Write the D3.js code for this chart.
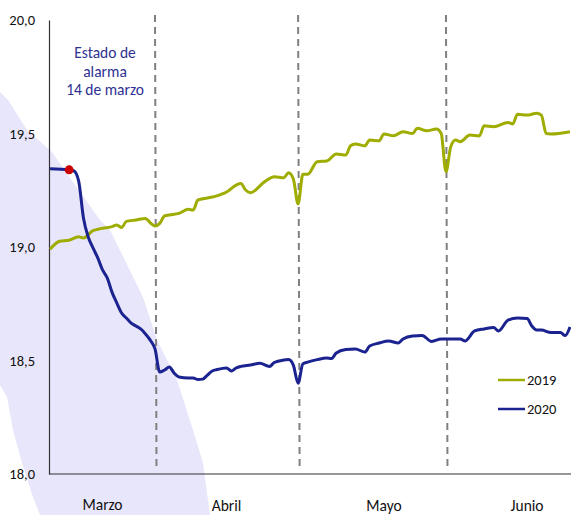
<!DOCTYPE html>
<html>
<head>
<meta charset="utf-8">
<script src="https://cdn.jsdelivr.net/npm/d3@7"></script>
<style>
  body { margin: 0; background: #fff; }
  svg { display: block; font-family: Carlito, Calibri, Lato, sans-serif; }
</style>
</head>
<body>
<div id="chart"></div>
<script>
// series, dates as month-day (both years placed on the same calendar)
var dates2019 = ["03-10","03-12","03-14","03-16","03-17","03-19","03-20","03-23","03-24","03-25","03-26","03-28","03-30","03-31",
  "04-01","04-02","04-03","04-04","04-06","04-08","04-09","04-10","04-13","04-16","04-18","04-19","04-20","04-21","04-24","04-26","04-28","04-29","04-30",
  "05-01","05-02","05-03","05-05","05-07","05-09","05-11","05-12","05-13","05-15","05-16","05-18","05-19","05-21","05-23","05-25","05-26","05-28","05-30","05-31",
  "06-01","06-02","06-03","06-04","06-06","06-08","06-09","06-11","06-14","06-15","06-16","06-18","06-20","06-21","06-22","06-23","06-27"];
var values2019 = [18.99,19.025,19.03,19.045,19.04,19.072,19.078,19.09,19.097,19.086,19.113,19.119,19.126,19.107,
  19.093,19.104,19.137,19.141,19.148,19.166,19.163,19.207,19.22,19.242,19.273,19.28,19.251,19.239,19.288,19.31,19.305,19.327,19.30,
  19.19,19.32,19.32,19.376,19.379,19.41,19.405,19.446,19.454,19.446,19.471,19.468,19.498,19.49,19.508,19.50,19.523,19.512,19.52,19.50,
  19.332,19.442,19.471,19.464,19.493,19.489,19.534,19.53,19.549,19.542,19.585,19.581,19.589,19.581,19.50,19.498,19.508];

var dates2020 = ["03-10","03-14","03-15","03-16","03-17","03-18","03-19","03-20","03-21","03-22","03-23","03-24","03-25","03-26","03-27","03-28","03-29","03-30","03-31",
  "04-01","04-02","04-03","04-04","04-05","04-06","04-08","04-09","04-10","04-11","04-12","04-13","04-14","04-16","04-17","04-18","04-19","04-21","04-23","04-25","04-26","04-28","04-29","04-30",
  "05-01","05-02","05-03","05-05","05-07","05-08","05-09","05-11","05-13","05-15","05-16","05-18","05-20","05-22","05-23","05-25","05-27","05-29","05-31",
  "06-02","06-04","06-05","06-07","06-09","06-11","06-12","06-14","06-16","06-18","06-19","06-20","06-21","06-23","06-25","06-26","06-27"];
var values2020 = [19.345,19.34,19.335,19.29,19.128,19.044,18.996,18.952,18.899,18.863,18.80,18.753,18.709,18.687,18.665,18.652,18.639,18.617,18.59,
  18.551,18.449,18.458,18.471,18.445,18.427,18.423,18.423,18.416,18.418,18.436,18.454,18.46,18.467,18.454,18.467,18.474,18.48,18.488,18.474,18.491,18.502,18.504,18.48,
  18.40,18.485,18.493,18.504,18.511,18.509,18.533,18.548,18.551,18.537,18.564,18.577,18.586,18.577,18.595,18.608,18.61,18.584,18.595,
  18.595,18.595,18.586,18.63,18.639,18.645,18.63,18.678,18.687,18.685,18.652,18.634,18.634,18.623,18.623,18.61,18.648];

var seriesNames = ["2019", "2020"];
var months = ["Marzo", "Abril", "Mayo", "Junio"];
var monthLabelDates = ["03-21", "04-16", "05-19", "06-18"];
var monthStarts = ["04-01", "05-01", "06-01"];
var yTicks = [18, 18.5, 19, 19.5, 20];
var alarmDate = "03-14";
var alarmText = ["Estado de", "alarma", "14 de marzo"];

// light shaded band behind the start of the chart: [days after 1 March, value]
var bandPoints = [[-1.5,19.683],[0.18,19.648],[4.17,19.515],[9.41,19.419],[14.23,19.273],[19.47,19.119],[21.56,19.075],
  [28.48,18.78],[31.42,18.59],[35.61,18.414],[38.97,18.194],[41.06,18.048],[42.53,17.819],
  [6.89,17.819],[5.42,17.899],[3.12,18.048],[1.23,18.194],[-0.03,18.339],[-1.5,18.392]];

var width = 571;
var height = 515;
var plotLeft = 49, plotRight = 571, plotTop = 20, plotBottom = 474;
var tickFont = 14.5;
var labelFont = 15.5;

var colors = ["#9fac00", "#1b2390"];

var parse = d3.utcParse("%Y-%m-%d");
var day = s => parse("2020-" + s);
var base = Date.UTC(2020, 2, 1);

var data = [
  { name: seriesNames[0], values: dates2019.map((d, i) => ({date: day(d), value: values2019[i]})) },
  { name: seriesNames[1], values: dates2020.map((d, i) => ({date: day(d), value: values2020[i]})) }
];

/* Scale */
var xScale = d3.scaleUtc()
  .domain([new Date(base), day("07-01")])
  .range([7.13, 7.13 + 4.77 * 122]);

var yScale = d3.scaleLinear()
  .domain([18, 20])
  .range([plotBottom, plotTop]);

var svg = d3.select("#chart").append("svg")
  .attr("width", width)
  .attr("height", height);

svg.append("defs").append("clipPath")
  .attr("id", "plot")
  .append("rect")
  .attr("x", plotLeft).attr("y", 0)
  .attr("width", plotRight - plotLeft).attr("height", plotBottom);

/* shaded band */
svg.append("path")
  .attr("d", d3.line()
    .x(d => xScale(new Date(base + d[0] * 864e5)))
    .y(d => yScale(d[1]))(bandPoints) + "Z")
  .attr("fill", "#e8e6fa");

/* month dividers */
svg.selectAll(".divider")
  .data(monthStarts).enter()
  .append("line")
  .attr("class", "divider")
  .attr("x1", d => xScale(day(d)))
  .attr("x2", d => xScale(day(d)) + 1.5)
  .attr("y1", plotTop - 5)
  .attr("y2", plotBottom - 4)
  .attr("stroke", "#808080")
  .attr("stroke-width", 2)
  .attr("stroke-dasharray", "7,5");

/* axes */
var locale = d3.formatLocale({decimal: ",", thousands: ".", grouping: [3], currency: ["", "€"]});
var yAxis = d3.axisLeft(yScale)
  .tickValues(yTicks)
  .tickSize(0)
  .tickPadding(14)
  .tickFormat(locale.format(".1f"));

var gy = svg.append("g")
  .attr("transform", `translate(${plotLeft},0)`)
  .call(yAxis);
gy.select(".domain").attr("stroke", "#333").attr("stroke-width", 1.2);
gy.selectAll("text").attr("font-size", tickFont).attr("fill", "#111")
  .style("font-family", "Carlito, Calibri, Lato, sans-serif");

svg.append("line")
  .attr("x1", plotLeft).attr("x2", plotRight)
  .attr("y1", plotBottom).attr("y2", plotBottom)
  .attr("stroke", "#333").attr("stroke-width", 1.2);

svg.selectAll(".month")
  .data(months).enter()
  .append("text")
  .attr("class", "month")
  .attr("x", (d, i) => xScale(day(monthLabelDates[i])))
  .attr("y", (d, i) => [509.5, 511, 511, 511][i])
  .attr("text-anchor", "middle")
  .attr("font-size", labelFont)
  .attr("fill", "#111")
  .text(d => d);

/* lines */
var line = d3.line()
  .curve(d3.curveMonotoneX)
  .x(d => xScale(d.date))
  .y(d => yScale(d.value));

svg.append("g")
  .attr("clip-path", "url(#plot)")
  .selectAll(".line")
  .data(data).enter()
  .append("path")
  .attr("class", "line")
  .attr("d", d => line(d.values))
  .attr("fill", "none")
  .attr("stroke", (d, i) => colors[i])
  .attr("stroke-width", 3)
  .attr("stroke-linejoin", "round");

/* alarm point */
var alarmPoint = data[1].values.find(d => +d.date === +day(alarmDate));
svg.append("circle")
  .attr("cx", xScale(alarmPoint.date))
  .attr("cy", yScale(alarmPoint.value))
  .attr("r", 4.5)
  .attr("fill", "#cc0000");

svg.append("text")
  .attr("x", 105)
  .attr("y", 58)
  .attr("text-anchor", "middle")
  .attr("font-size", labelFont)
  .attr("fill", "#2e3192")
  .selectAll("tspan")
  .data(alarmText).enter()
  .append("tspan")
  .attr("x", 105)
  .attr("dy", (d, i) => i === 0 ? 0 : 18.5)
  .text(d => d);

/* legend */
var legend = svg.selectAll(".legend")
  .data(seriesNames).enter()
  .append("g")
  .attr("class", "legend")
  .attr("transform", (d, i) => `translate(498, ${380 + i * 29})`);

legend.append("line")
  .attr("x1", 0).attr("x2", 27)
  .attr("stroke", (d, i) => colors[i])
  .attr("stroke-width", 2.5);

legend.append("text")
  .attr("x", 29)
  .attr("y", 5)
  .attr("font-size", tickFont)
  .attr("fill", "#111")
  .text(d => d);
</script>
</body>
</html>
